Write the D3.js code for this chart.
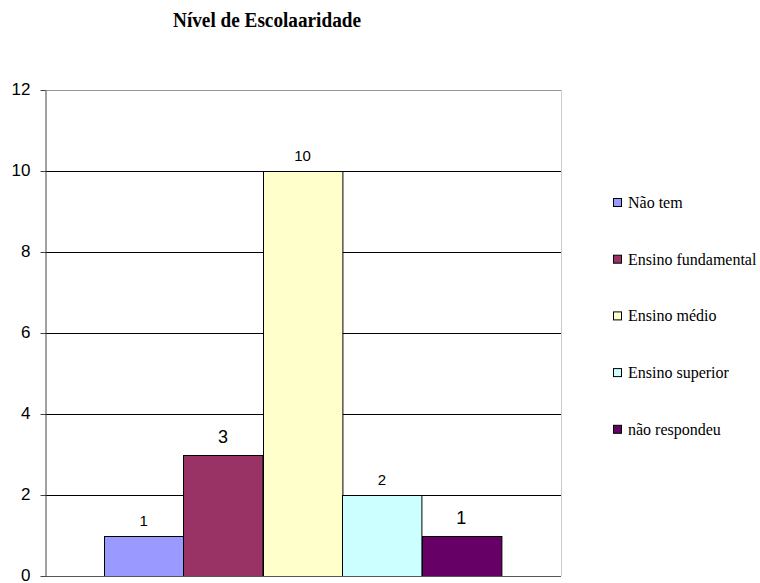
<!DOCTYPE html>
<html>
<head>
<meta charset="utf-8">
<script src="https://cdn.jsdelivr.net/npm/d3@7"></script>
<style>
  html, body { margin: 0; padding: 0; background: #fff; }
  svg { display: block; }
  .sans { font-family: "Liberation Sans", Arial, Helvetica, sans-serif; }
  .serif { font-family: "Liberation Serif", "Times New Roman", Tinos, "DejaVu Serif", "Noto Serif", serif; }
</style>
</head>
<body>
<svg id="chart" width="760" height="583"></svg>
<script>
const categories = ["Não tem", "Ensino fundamental", "Ensino médio", "Ensino superior", "não respondeu"];
const values = [1, 3, 10, 2, 1];
const colors = ["#9999ff", "#993366", "#ffffcc", "#ccffff", "#660066"];
const labelSizes = [15, 18, 15, 15, 18];
const yTicks = [0, 2, 4, 6, 8, 10, 12];

const svg = d3.select("#chart");
const plot = { left: 45, right: 561, top: 90, bottom: 576 };

const y = d3.scaleLinear().domain([0, 12]).range([plot.bottom, plot.top]);
const x = d3.scaleBand().domain(categories).range([104, 501]).padding(0);

// gridlines
svg.append("g")
  .selectAll("line")
  .data(yTicks.filter(t => t > 0 && t < 12))
  .join("line")
  .attr("x1", plot.left).attr("x2", plot.right)
  .attr("y1", d => Math.round(y(d)) + 0.5).attr("y2", d => Math.round(y(d)) + 0.5)
  .attr("stroke", "#000").attr("stroke-width", 1);

// plot frame: top and right in grey
svg.append("line")
  .attr("x1", plot.left).attr("x2", plot.right + 0.5)
  .attr("y1", plot.top + 0.5).attr("y2", plot.top + 0.5)
  .attr("stroke", "#999");
svg.append("line")
  .attr("x1", plot.right + 0.5).attr("x2", plot.right + 0.5)
  .attr("y1", plot.top).attr("y2", plot.bottom)
  .attr("stroke", "#ccc");

// bars
svg.append("g")
  .selectAll("rect")
  .data(categories)
  .join("rect")
  .attr("x", d => Math.round(x(d)) + 0.5)
  .attr("y", (d, i) => Math.round(y(values[i])) + 0.5)
  .attr("width", x.bandwidth())
  .attr("height", (d, i) => y(0) - Math.round(y(values[i])))
  .attr("fill", (d, i) => colors[i])
  .attr("stroke", "#000").attr("stroke-width", 1);

// bottom axis line
svg.append("line")
  .attr("x1", plot.left).attr("x2", plot.right)
  .attr("y1", plot.bottom + 0.5).attr("y2", plot.bottom + 0.5)
  .attr("stroke", "#555");

// left axis
const yAxis = d3.axisLeft(y).tickValues(yTicks).tickSize(5).tickPadding(10).tickSizeOuter(0);
const ga = svg.append("g")
  .attr("transform", `translate(${plot.left + 0.5},0)`)
  .call(yAxis);
ga.attr("font-family", null).attr("font-size", null);
ga.select(".domain").attr("stroke", "#444");
ga.selectAll(".tick line").attr("stroke", "#444");
ga.selectAll(".tick text")
  .attr("class", "sans")
  .attr("dy", "0.28em")
  .style("font-size", "17px")
  .attr("fill", "#000");

// value labels
svg.append("g")
  .selectAll("text")
  .data(categories)
  .join("text")
  .attr("class", "sans")
  .attr("x", d => x(d) + x.bandwidth() / 2)
  .attr("y", (d, i) => y(values[i]) - (labelSizes[i] > 16 ? 12 : 10))
  .attr("text-anchor", "middle")
  .style("font-size", (d, i) => labelSizes[i] + "px")
  .text((d, i) => values[i]);

// title
svg.append("text")
  .attr("class", "serif")
  .attr("x", 173).attr("y", 27)
  .attr("textLength", 188)
  .attr("lengthAdjust", "spacingAndGlyphs")
  .style("font-weight", "bold")
  .style("font-size", "20px")
  .text("Nível de Escolaaridade");

// legend
const legend = svg.append("g")
  .selectAll("g")
  .data(categories)
  .join("g")
  .attr("transform", (d, i) => `translate(613,${198 + i * 56.7})`);
legend.append("rect")
  .attr("x", 0.5).attr("y", 0.5)
  .attr("width", 8).attr("height", 8)
  .attr("fill", (d, i) => colors[i])
  .attr("stroke", "#000");
legend.append("text")
  .attr("class", "serif")
  .attr("x", 15).attr("y", 10)
  .style("font-size", "16px")
  .text(d => d);
</script>
</body>
</html>
